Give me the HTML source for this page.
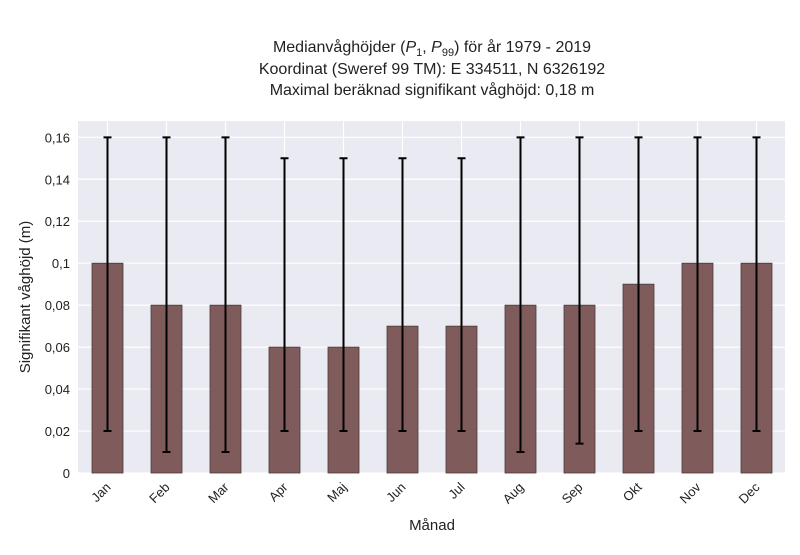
<!DOCTYPE html>
<html><head><meta charset="utf-8"><style>
body{margin:0;background:#fff;font-family:"Liberation Sans","DejaVu Sans",sans-serif}
</style></head><body>
<svg id="chart" width="800" height="550" xmlns="http://www.w3.org/2000/svg" font-family="Liberation Sans, DejaVu Sans, sans-serif">
<rect width="800" height="550" fill="#fff"/>
<g font-size="16" fill="#222" text-anchor="middle">
<text x="432" y="52">Medianvåghöjder (<tspan font-style="italic">P</tspan><tspan font-size="11" dy="4">1</tspan><tspan dy="-4">, </tspan><tspan font-style="italic">P</tspan><tspan font-size="11" dy="4">99</tspan><tspan dy="-4">) för år 1979 - 2019</tspan></text>
<text x="432" y="74">Koordinat (Sweref 99 TM): E 334511, N 6326192</text>
<text x="432" y="95">Maximal beräknad signifikant våghöjd: 0,18 m</text>
</g>
<rect x="78" y="121" width="707" height="352" fill="#eaeaf2"/>
<g id="grid"></g>
<g id="bars"></g>
<g id="yticks" font-size="13" fill="#222" text-anchor="end"></g>
<g id="xticks" font-size="13" fill="#222"></g>
<text x="30" y="297" font-size="15" fill="#222" text-anchor="middle" transform="rotate(-90 30 297)">Signifikant våghöjd (m)</text>
<text x="432" y="530" font-size="15" fill="#222" text-anchor="middle">Månad</text>
</svg>
<script>
const months=["Jan","Feb","Mar","Apr","Maj","Jun","Jul","Aug","Sep","Okt","Nov","Dec"];
const medians=[0.10,0.08,0.08,0.06,0.06,0.07,0.07,0.08,0.08,0.09,0.10,0.10];
const p1=[0.02,0.01,0.01,0.02,0.02,0.02,0.02,0.01,0.014,0.02,0.02,0.02];
const p99=[0.16,0.16,0.16,0.15,0.15,0.15,0.15,0.16,0.16,0.16,0.16,0.16];
const yTicks=[0,0.02,0.04,0.06,0.08,0.1,0.12,0.14,0.16];
const yTickLabels=["0","0,02","0,04","0,06","0,08","0,1","0,12","0,14","0,16"];
const NS="http://www.w3.org/2000/svg";
const y=v=>473-v*2098;
const x=i=>107.5+i*59;
function mk(t,a,p){const e=document.createElementNS(NS,t);for(const k in a)e.setAttribute(k,a[k]);p.appendChild(e);return e;}
const grid=document.getElementById('grid'),bars=document.getElementById('bars'),yt=document.getElementById('yticks'),xt=document.getElementById('xticks');
yTicks.forEach((v,i)=>{
 const l=mk('line',{x1:78,x2:785,y1:y(v),y2:y(v),stroke:'#fff','stroke-width':1.2},grid);
 
 
 const t=mk('text',{x:70,y:y(v)+5},yt);t.textContent=yTickLabels[i];
 
 
});
months.forEach((m,i)=>{
 const g=mk('line',{x1:x(i),x2:x(i),y1:121,y2:473,stroke:'#fff','stroke-width':1.2},grid);
 
 
 const b=mk('rect',{x:x(i)-15.5,y:y(medians[i]),width:31,height:y(0)-y(medians[i]),fill:'#7f5b5b',stroke:'#4a3a3a','stroke-width':0.8},bars);
 
 
 const e=mk('path',{d:`M${x(i)},${y(p1[i])}V${y(p99[i])}M${x(i)-4},${y(p1[i])}h8M${x(i)-4},${y(p99[i])}h8`,stroke:'#000','stroke-width':2,fill:'none'},bars);
 
 
 const t=mk('text',{x:x(i)+4,y:488,'text-anchor':'end',transform:`rotate(-45 ${x(i)+4} 488)`},xt);t.textContent=m;
 
 
});
</script>
</body></html>
